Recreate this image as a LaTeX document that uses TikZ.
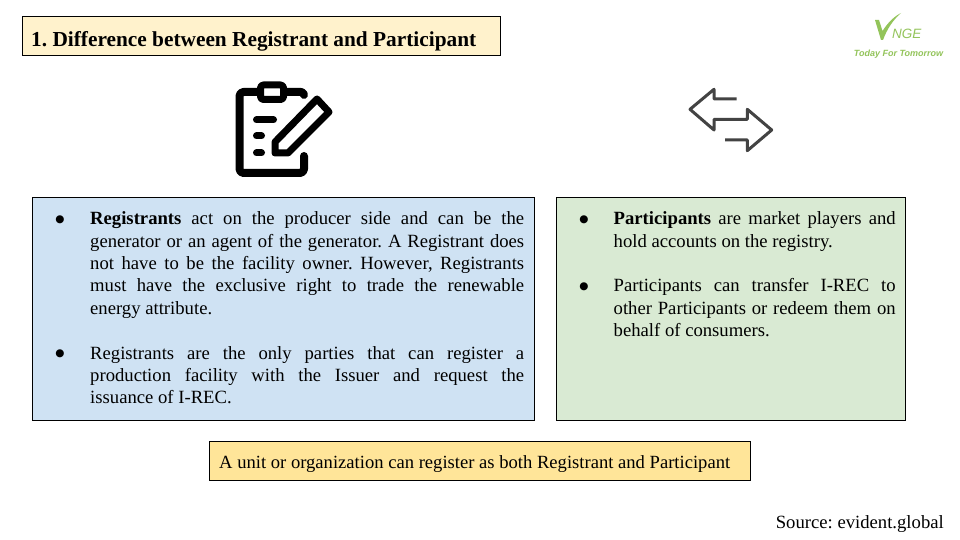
\documentclass[tikz,border=0pt]{standalone}
\usepackage{fontspec}
\setmainfont{Liberation Serif}
\setsansfont{Liberation Sans}
\newfontfamily\bulletfont{DejaVu Sans}
\usetikzlibrary{calc}
\frenchspacing

\definecolor{titlefill}{HTML}{FFF2CC}
\definecolor{notefill}{HTML}{FFE599}
\definecolor{bluefill}{HTML}{CFE2F3}
\definecolor{greenfill}{HTML}{D9EAD3}
\definecolor{logogreen}{HTML}{93C45A}
\definecolor{arrowgray}{HTML}{434343}

\tikzset{
    panel/.style={draw=black, line width=0.9pt},
    bodytext/.style={anchor=north west, inner sep=0pt, align=justify, font=\fontsize{18.67}{22.4}\selectfont},
    bulletmark/.style={inner sep=0pt, font=\bulletfont\fontsize{10.5}{11}\selectfont},
    iconline/.style={line width=8pt, line cap=round, line join=round},
}

\begin{document}
\begin{tikzpicture}[x=1pt, y=-1pt]
    \useasboundingbox (0, 0) rectangle (960, 540);
    \fill[white] (0, 0) rectangle (960, 540);

    % title
    \draw[panel, fill=titlefill] (22, 16) rectangle (500, 55);
    \node[anchor=base west, inner sep=0pt, font=\fontsize{21.33}{24}\selectfont\bfseries] (title) at (31, 47) {1. Difference between Registrant and Participant};

    % logo
    \fill[logogreen] (875, 20) -- (879, 20) -- (882.5, 31) .. controls (887, 24) and (893, 17) .. (901, 13) .. controls (893, 20) and (887, 29) .. (883, 40) -- (881, 40) -- cycle;
    \node[anchor=base west, inner sep=0pt, text=logogreen, font=\sffamily\itshape\fontsize{13.5}{14}\selectfont] (nge) at (892, 38.5) {NGE};
    \node[anchor=base, inner sep=0pt, text=logogreen, font=\sffamily\itshape\bfseries\fontsize{9}{9}\selectfont] (slogan) at (898.5, 56.5) {Today For Tomorrow};

    % clipboard icon
    \draw[iconline, rounded corners=4pt] (304, 156) -- (304, 173) -- (239.5, 173) -- (239.5, 92) -- (259, 92);
    \draw[iconline, rounded corners=3pt] (285, 92) -- (304, 92) -- (304, 95);
    \draw[iconline, line width=7pt, rounded corners=3pt] (260.5, 99.5) -- (260.5, 85) -- (283.5, 85) -- (283.5, 99.5) -- cycle;
    \draw[iconline, line width=7pt] (317, 99) -- (329, 112) -- (288, 153) -- (275, 153) -- (275, 142) -- cycle;
    \draw[iconline, line width=7pt] (256.5, 120) -- (273.5, 120);
    \draw[iconline, line width=7pt] (256.5, 136) -- (261.5, 136);
    \draw[iconline, line width=7pt] (256.5, 153) -- (261.5, 153);

    % exchange icon
    \draw[draw=arrowgray, line width=3pt, line join=round] (736.7, 99) -- (714, 99) -- (714, 89.3) -- (690, 109.3) -- (714, 130) -- (714, 119.3) -- (747.3, 119.3) -- (747.3, 109.3) -- (771.7, 130) -- (747.3, 150.7) -- (747.3, 140) -- (725, 140);

    % registrants
    \draw[panel, fill=bluefill] (32, 197) rectangle (534, 420);
    \node[bulletmark] (bulleta) at (60, 219.5) {●};
    \node[bodytext, text width=434pt] (regone) at (90, 211.5) {\textbf{Registrants} act on the producer side and can be the\linebreak generator or an agent of the generator. A Registrant does\linebreak not have to be the facility owner. However, Registrants\linebreak must have the exclusive right to trade the renewable\linebreak energy attribute.};
    \node[bulletmark] (bulletb) at (60, 354) {●};
    \node[bodytext, text width=434pt] (regtwo) at (90, 346) {Registrants are the only parties that can register a\linebreak production facility with the Issuer and request the\linebreak issuance of I-REC.};

    % participants
    \draw[panel, fill=greenfill] (556, 197) rectangle (905, 420);
    \node[bulletmark] (bulletc) at (584, 219.5) {●};
    \node[bodytext, text width=282pt] (parone) at (613.5, 211.5) {\textbf{Participants} are market players and\linebreak hold accounts on the registry.};
    \node[bulletmark] (bulletd) at (584, 286.5) {●};
    \node[bodytext, text width=282pt] (partwo) at (613.5, 278.5) {Participants can transfer I-REC to\linebreak other Participants or redeem them on\linebreak behalf of consumers.};

    % note
    \draw[panel, fill=notefill] (209, 441) rectangle (750, 480.5);
    \node[anchor=base west, inner sep=0pt, font=\fontsize{18.6}{22}\selectfont] (note) at (219, 468) {A unit or organization can register as both Registrant and Participant};

    % source
    \node[anchor=base east, inner sep=0pt, font=\fontsize{18.67}{22}\selectfont] (source) at (944, 528) {Source: evident.global};
\end{tikzpicture}
\end{document}
